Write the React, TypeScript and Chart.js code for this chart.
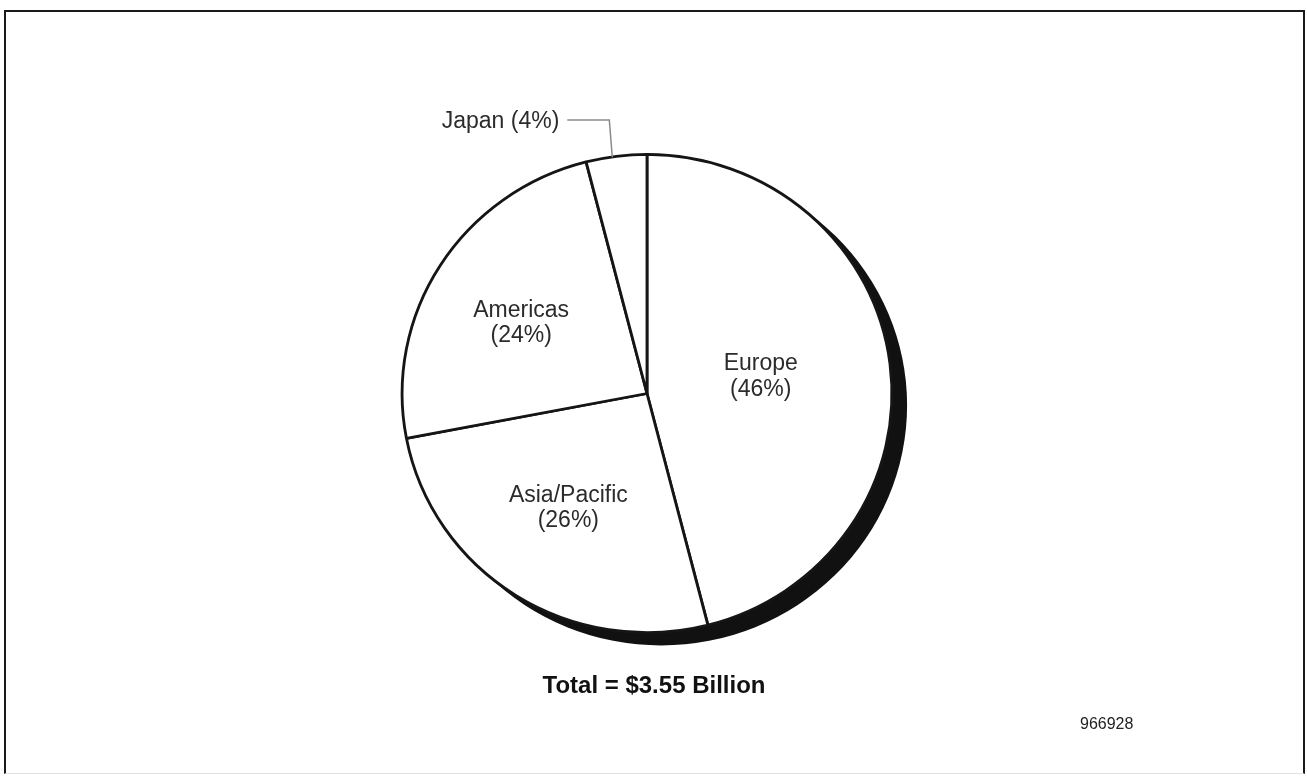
import React, { useEffect, useRef } from "react";
import { Chart, registerables } from "chart.js";

Chart.register(...registerables);

const regions = ["Europe", "Asia/Pacific", "Americas", "Japan"];
const shares = [46, 26, 24, 4];
const labelLines = [
  ["Europe", "(46%)"],
  ["Asia/Pacific", "(26%)"],
  ["Americas", "(24%)"],
  ["Japan (4%)"],
];
const totalLabel = "Total = $3.55 Billion";
const figureId = "966928";

const LABEL_FONT = '23px "Liberation Sans", Arial, Helvetica, sans-serif';

// label offsets relative to the pie centre, in units of the outer radius
const labelOffsets = [
  [0.47, -0.07],
  [-0.325, 0.473],
  [-0.52, -0.29],
];

// the printed pie is slightly wider than tall
const SX = 1.012;
const SY = 0.988;

const shadowPlugin = {
  id: "pieShadow",
  beforeDatasetsDraw(chart: any) {
    const meta = chart.getDatasetMeta(0);
    const arc = meta.data[0];
    const ctx = chart.ctx;
    ctx.save();
    if (!arc) return;
    const { x, y, outerRadius } = arc.getProps(["x", "y", "outerRadius"], true);
    ctx.translate(x, y);
    ctx.scale(SX, SY);
    ctx.translate(-x, -y);
    ctx.save();
    ctx.fillStyle = "#111";
    ctx.beginPath();
    ctx.arc(x + 14, y + 12, outerRadius + 1, 0, Math.PI * 2);
    ctx.fill();
    ctx.restore();
  },
  afterDatasetsDraw(chart: any) {
    chart.ctx.restore();
  },
};

const labelPlugin = {
  id: "sliceLabels",
  afterDatasetsDraw(chart: any) {
    const meta = chart.getDatasetMeta(0);
    const ctx = chart.ctx;
    ctx.save();
    ctx.font = LABEL_FONT;
    ctx.fillStyle = "#2b2b2b";
    ctx.textBaseline = "middle";
    meta.data.forEach((arc: any, i: number) => {
      const { x, y, startAngle, endAngle, outerRadius } = arc.getProps(
        ["x", "y", "startAngle", "endAngle", "outerRadius"],
        true
      );
      const lines = labelLines[i];
      if (i < labelOffsets.length) {
        const cx = x + labelOffsets[i][0] * outerRadius;
        const cy = y + labelOffsets[i][1] * outerRadius;
        const lh = 25.5;
        ctx.textAlign = "center";
        lines.forEach((t, k) => {
          ctx.fillText(t, cx, cy + (k - (lines.length - 1) / 2) * lh);
        });
      } else {
        const mid = (startAngle + endAngle) / 2;
        const px = x + outerRadius * SX * Math.cos(mid) - 4;
        const py = y + outerRadius * SY * Math.sin(mid) + 1;
        const topY = y - outerRadius * 1.13;
        ctx.strokeStyle = "#8a8a8a";
        ctx.lineWidth = 1.5;
        ctx.beginPath();
        ctx.moveTo(px, py);
        ctx.lineTo(px - 3, topY);
        ctx.lineTo(px - 45, topY);
        ctx.stroke();
        ctx.textAlign = "right";
        ctx.fillText(lines[0], px - 53, topY + 2);
      }
    });
    ctx.restore();
  },
};

export default function App() {
  const canvasRef = useRef<HTMLCanvasElement | null>(null);

  useEffect(() => {
    if (!canvasRef.current) return;
    const chart = new Chart(canvasRef.current, {
      type: "pie",
      data: {
        labels: regions,
        datasets: [
          {
            data: shares,
            backgroundColor: "#ffffff",
            borderColor: "#151515",
            borderWidth: 2.8,
            radius: 242,
          } as any,
        ],
      },
      options: {
        animation: false,
        responsive: false,
        maintainAspectRatio: false,
        devicePixelRatio: 1,
        layout: { padding: { left: 0, right: 13, top: 10, bottom: 0 } },
        plugins: {
          legend: { display: false },
          tooltip: { enabled: false },
          title: { display: false },
        },
      },
      plugins: [shadowPlugin, labelPlugin],
    });
    return () => chart.destroy();
  }, []);

  return (
    <div
      style={{
        position: "absolute",
        left: 0,
        top: 0,
        width: 1307,
        height: 777,
        background: "#fff",
        overflow: "hidden",
        fontFamily: '"Liberation Sans", Arial, Helvetica, sans-serif',
      }}
    >
      <div
        style={{
          position: "absolute",
          left: 4,
          top: 10,
          width: 1297,
          height: 761,
          borderTop: "2.5px solid #1a1a1a",
          borderLeft: "2.5px solid #1a1a1a",
          borderRight: "2.5px solid #1a1a1a",
          borderBottom: "1px solid #e2e2e2",
        }}
      />
      <canvas
        ref={canvasRef}
        width={1307}
        height={777}
        style={{ position: "absolute", left: 0, top: 0, width: 1307, height: 777 }}
      />
      <div
        style={{
          position: "absolute",
          left: 454,
          width: 400,
          top: 671,
          textAlign: "center",
          fontWeight: "bold",
          fontSize: 24,
          lineHeight: "28px",
          color: "#111",
        }}
      >
        {totalLabel}
      </div>
      <div
        style={{
          position: "absolute",
          left: 1080,
          top: 715,
          fontSize: 16,
          lineHeight: "18px",
          color: "#222",
        }}
      >
        {figureId}
      </div>
    </div>
  );
}
